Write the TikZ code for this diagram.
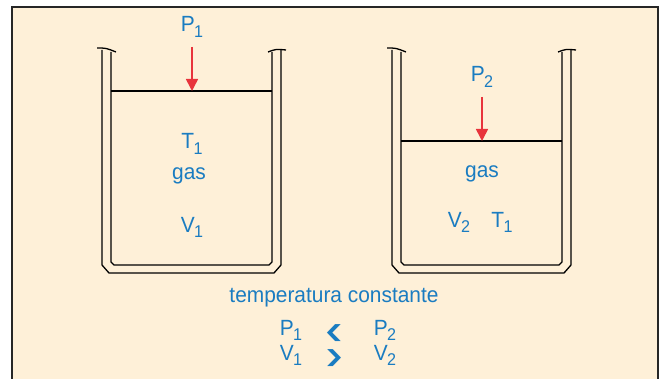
\documentclass[tikz,border=0pt]{standalone}
\usepackage{graphicx}
\usepackage{fontspec}
\setmainfont{Liberation Sans}[FakeStretch=0.95]
\newfontfamily\symfont{DejaVu Sans}
\usetikzlibrary{arrows.meta}
\definecolor{cream}{HTML}{FEF0D8}
\definecolor{txtblue}{HTML}{1A7CC1}
\definecolor{arrred}{HTML}{E8343C}
\newcommand{\idx}[1]{\kern-0.5pt\raisebox{-5.5pt}{\fontsize{17}{17}\selectfont #1}}
\newcommand{\wide}[1]{\scalebox{1.5}[1]{#1}}
\tikzset{
  lbl/.style={text=txtblue,font=\fontsize{22}{22}\selectfont,inner sep=0pt,anchor=base},
  cmp/.style={text=txtblue,font=\symfont\fontsize{17}{17}\selectfont,inner sep=0pt,anchor=center},
  wall/.style={line width=1.3pt,line join=round},
  push/.style={draw=arrred,line width=1.6pt,-{Triangle[width=12pt,length=12pt]}}
}
\begin{document}
\begin{tikzpicture}[x=1pt,y=-1pt]
\useasboundingbox (0,0) rectangle (660,379);
\fill[white] (0,0) rectangle (660,379);
\fill[cream] (12,7) rectangle (658,379);
\draw[line width=2pt,black!85] (12,379) -- (12,7) -- (658,7) -- (658,379);

% the two vessels
\foreach \dx in {0,290} {
  \begin{scope}[xshift=\dx]
  \draw[wall] (102,50) -- (102,265) -- (109,273) -- (274,273) -- (281,265) -- (281,50);
  \draw[wall] (111,52) -- (111,262) -- (114,265) -- (269,265) -- (272,262) -- (272,52);
  \draw[wall] (97,48) .. controls (106,48) .. (116,52);
  \draw[wall] (268,52) .. controls (276,49) .. (286,50);
  \end{scope}
}

% pistons
\coordinate (pl1) at (111,91);
\coordinate (pr1) at (272,91);
\coordinate (pl2) at (401,141);
\coordinate (pr2) at (562,141);
\draw[line width=1.3pt] (pl1) -- (pr1);
\draw[line width=1.3pt] (pl2) -- (pr2);

% forces
\coordinate (f1) at (192,47);
\coordinate (h1) at (192,91);
\coordinate (f2) at (482,97);
\coordinate (h2) at (482,141);
\draw[push] (f1) -- (h1);
\draw[push] (f2) -- (h2);

\node[lbl] (p1) at (192,32) {P\idx{1}};
\node[lbl] (t1) at (192,149) {T\idx{1}};
\node[lbl] (gas1) at (189,180) {gas};
\node[lbl] (v1) at (192,232) {V\idx{1}};

\node[lbl] (p2) at (482,82) {P\idx{2}};
\node[lbl] (gas2) at (482,178) {gas};
\node[lbl] (v2) at (459,227) {V\idx{2}};
\node[lbl] (t2) at (502,227) {T\idx{1}};

\node[lbl] (temp) at (334,302) {temperatura constante};
\node[lbl] (pa) at (291,335) {P\idx{1}};
\node[cmp] (lt) at (334,333) {\wide{❮}};
\node[lbl] (pb) at (385,335) {P\idx{2}};
\node[lbl] (va) at (291,360) {V\idx{1}};
\node[cmp] (gt) at (334,358) {\wide{❯}};
\node[lbl] (vb) at (385,360) {V\idx{2}};
\end{tikzpicture}
\end{document}
